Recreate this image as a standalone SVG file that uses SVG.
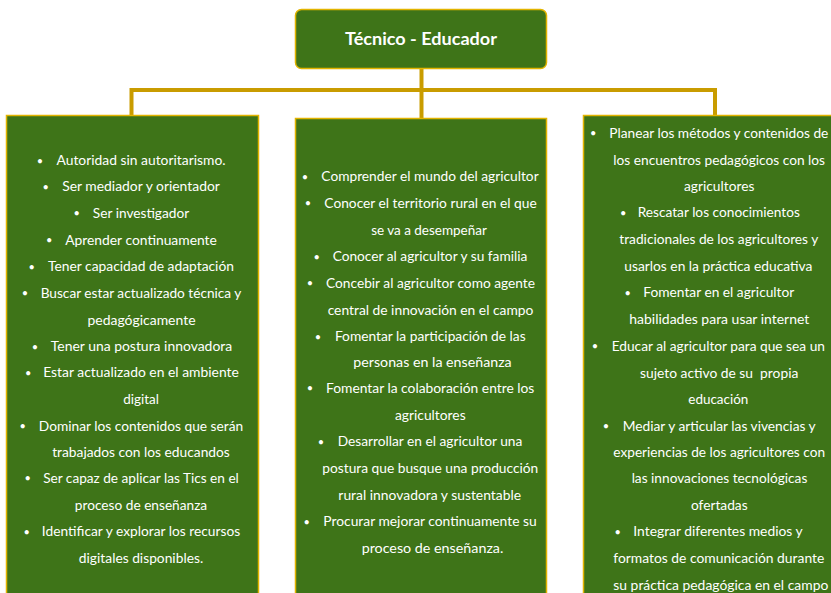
<svg xmlns="http://www.w3.org/2000/svg" width="831" height="593" viewBox="0 0 831 593">
<style>
.box{fill:#3e7418;stroke:#e2b400;stroke-width:1.5}
.conn{fill:none;stroke:#c99c00;stroke-width:4;stroke-linejoin:miter;stroke-linecap:butt}
.t{font-family:Lato,"Liberation Sans",sans-serif;font-size:13.3px;fill:#ffffff;text-anchor:middle}
.b{font-family:Lato,"Liberation Sans",sans-serif;font-size:11px;fill:#ffffff;text-anchor:middle}
.title{font-family:Lato,"Liberation Sans",sans-serif;font-size:16.5px;font-weight:bold;fill:#ffffff;text-anchor:middle}
</style>
<rect width="831" height="593" fill="#ffffff"/>
<g id="connectors">
<path class="conn" d="M421.5 68 V119"/>
<path class="conn" d="M131.5 115 V90 H715 V115"/>
</g>
<g id="node-root">
<rect class="box" x="295.5" y="9.5" width="251" height="59" rx="6"/>
<text class="title" x="421" y="45" textLength="152" lengthAdjust="spacingAndGlyphs">Técnico - Educador</text>
</g>
<g id="node-left">
<rect class="box" x="6.5" y="115.5" width="252" height="490"/>
<text class="b" x="40" y="164.5">•</text><text class="t" x="141" y="165.2" textLength="169" lengthAdjust="spacingAndGlyphs">Autoridad sin autoritarismo.</text>
<text class="b" x="45.7" y="190.6">•</text><text class="t" x="141" y="191.3" textLength="157.7" lengthAdjust="spacingAndGlyphs">Ser mediador y orientador</text>
<text class="b" x="76.7" y="217.3">•</text><text class="t" x="141" y="218" textLength="96.3" lengthAdjust="spacingAndGlyphs">Ser investigador</text>
<text class="b" x="49.3" y="244">•</text><text class="t" x="141" y="244.7" textLength="151.7" lengthAdjust="spacingAndGlyphs">Aprender continuamente</text>
<text class="b" x="31.7" y="270.6">•</text><text class="t" x="141" y="271.3" textLength="186" lengthAdjust="spacingAndGlyphs">Tener capacidad de adaptación</text>
<text class="b" x="25" y="297.3">•</text><text class="t" x="141" y="298" textLength="200.7" lengthAdjust="spacingAndGlyphs">Buscar estar actualizado técnica y</text>
<text class="t" x="141.5" y="324.7" textLength="108" lengthAdjust="spacingAndGlyphs">pedagógicamente</text>
<text class="b" x="35" y="350.6">•</text><text class="t" x="141.5" y="351.3" textLength="181.3" lengthAdjust="spacingAndGlyphs">Tener una postura innovadora</text>
<text class="b" x="28.3" y="376.6">•</text><text class="t" x="141" y="377.3" textLength="195.7" lengthAdjust="spacingAndGlyphs">Estar actualizado en el ambiente</text>
<text class="t" x="141" y="404" textLength="35.7" lengthAdjust="spacingAndGlyphs">digital</text>
<text class="b" x="22.7" y="430">•</text><text class="t" x="141" y="430.7" textLength="204.3" lengthAdjust="spacingAndGlyphs">Dominar los contenidos que serán</text>
<text class="t" x="141" y="457.3" textLength="177.7" lengthAdjust="spacingAndGlyphs">trabajados con los educandos</text>
<text class="b" x="27.7" y="482.3">•</text><text class="t" x="141" y="483" textLength="195.7" lengthAdjust="spacingAndGlyphs">Ser capaz de aplicar las Tics en el</text>
<text class="t" x="141" y="509.7" textLength="132.3" lengthAdjust="spacingAndGlyphs">proceso de enseñanza</text>
<text class="b" x="26.7" y="535.6">•</text><text class="t" x="141" y="536.3" textLength="198.3" lengthAdjust="spacingAndGlyphs">Identificar y explorar los recursos</text>
<text class="t" x="141" y="563" textLength="124.3" lengthAdjust="spacingAndGlyphs">digitales disponibles.</text>
</g>
<g id="node-middle">
<rect class="box" x="295.5" y="118.5" width="251" height="490"/>
<text class="b" x="305" y="180.6">•</text><text class="t" x="430" y="181.3" textLength="217.3" lengthAdjust="spacingAndGlyphs">Comprender el mundo del agricultor</text>
<text class="b" x="308" y="207">•</text><text class="t" x="430.5" y="207.7" textLength="212.3" lengthAdjust="spacingAndGlyphs">Conocer el territorio rural en el que</text>
<text class="t" x="429" y="234.7" textLength="115.7" lengthAdjust="spacingAndGlyphs">se va a desempeñar</text>
<text class="b" x="316.7" y="260.6">•</text><text class="t" x="430" y="261.3" textLength="194.7" lengthAdjust="spacingAndGlyphs">Conocer al agricultor y su familia</text>
<text class="b" x="310" y="287">•</text><text class="t" x="430.5" y="287.7" textLength="209" lengthAdjust="spacingAndGlyphs">Concebir al agricultor como agente</text>
<text class="t" x="430.5" y="314.7" textLength="205.7" lengthAdjust="spacingAndGlyphs">central de innovación en el campo</text>
<text class="b" x="318" y="340.6">•</text><text class="t" x="430.3" y="341.3" textLength="190.7" lengthAdjust="spacingAndGlyphs">Fomentar la participación de las</text>
<text class="t" x="432.5" y="367.3" textLength="158.3" lengthAdjust="spacingAndGlyphs">personas en la enseñanza</text>
<text class="b" x="310" y="392.3">•</text><text class="t" x="430.2" y="393" textLength="208.3" lengthAdjust="spacingAndGlyphs">Fomentar la colaboración entre los</text>
<text class="t" x="430.3" y="419.7" textLength="70.7" lengthAdjust="spacingAndGlyphs">agricultores</text>
<text class="b" x="321" y="445.6">•</text><text class="t" x="430" y="446.3" textLength="184.7" lengthAdjust="spacingAndGlyphs">Desarrollar en el agricultor una</text>
<text class="t" x="430.3" y="473" textLength="216" lengthAdjust="spacingAndGlyphs">postura que busque una producción</text>
<text class="t" x="429.7" y="499.7" textLength="182.7" lengthAdjust="spacingAndGlyphs">rural innovadora y sustentable</text>
<text class="b" x="306.7" y="525.6">•</text><text class="t" x="430" y="526.3" textLength="213.3" lengthAdjust="spacingAndGlyphs">Procurar mejorar continuamente su</text>
<text class="t" x="432.5" y="553" textLength="141.7" lengthAdjust="spacingAndGlyphs">proceso de enseñanza.</text>
</g>
<g id="node-right">
<rect class="box" x="583.5" y="115.5" width="260" height="490"/>
<text class="b" x="593.3" y="137.3">•</text><text class="t" x="718.8" y="138" textLength="219" lengthAdjust="spacingAndGlyphs">Planear los métodos y contenidos de</text>
<text class="t" x="719.2" y="164.7" textLength="211.7" lengthAdjust="spacingAndGlyphs">los encuentros pedagógicos con los</text>
<text class="t" x="719.2" y="191.3" textLength="70.3" lengthAdjust="spacingAndGlyphs">agricultores</text>
<text class="b" x="623.3" y="216.6">•</text><text class="t" x="718.8" y="217.3" textLength="162.3" lengthAdjust="spacingAndGlyphs">Rescatar los conocimientos</text>
<text class="t" x="718.8" y="244" textLength="199" lengthAdjust="spacingAndGlyphs">tradicionales de los agricultores y</text>
<text class="t" x="718.3" y="270.7" textLength="188" lengthAdjust="spacingAndGlyphs">usarlos en la práctica educativa</text>
<text class="b" x="627.7" y="296.6">•</text><text class="t" x="718.8" y="297.3" textLength="151" lengthAdjust="spacingAndGlyphs">Fomentar en el agricultor</text>
<text class="t" x="719.3" y="324" textLength="180" lengthAdjust="spacingAndGlyphs">habilidades para usar internet</text>
<text class="b" x="595" y="350">•</text><text class="t" x="718.3" y="350.7" textLength="213.3" lengthAdjust="spacingAndGlyphs">Educar al agricultor para que sea un</text>
<text class="t" x="719.2" y="378" textLength="158.3" lengthAdjust="spacingAndGlyphs">sujeto activo de su&#160; propia</text>
<text class="t" x="718.3" y="404" textLength="60" lengthAdjust="spacingAndGlyphs">educación</text>
<text class="b" x="606" y="430">•</text><text class="t" x="719.2" y="430.7" textLength="193" lengthAdjust="spacingAndGlyphs">Mediar y articular las vivencias y</text>
<text class="t" x="719.2" y="457.3" textLength="211.7" lengthAdjust="spacingAndGlyphs">experiencias de los agricultores con</text>
<text class="t" x="719.5" y="483" textLength="175.7" lengthAdjust="spacingAndGlyphs">las innovaciones tecnológicas</text>
<text class="t" x="719.3" y="509.7" textLength="56.7" lengthAdjust="spacingAndGlyphs">ofertadas</text>
<text class="b" x="617.7" y="535.6">•</text><text class="t" x="718" y="536.3" textLength="169.3" lengthAdjust="spacingAndGlyphs">Integrar diferentes medios y</text>
<text class="t" x="718.8" y="563" textLength="211" lengthAdjust="spacingAndGlyphs">formatos de comunicación durante</text>
<text class="t" x="720.8" y="589.7" textLength="215" lengthAdjust="spacingAndGlyphs">su práctica pedagógica en el campo</text>
</g>
</svg>
